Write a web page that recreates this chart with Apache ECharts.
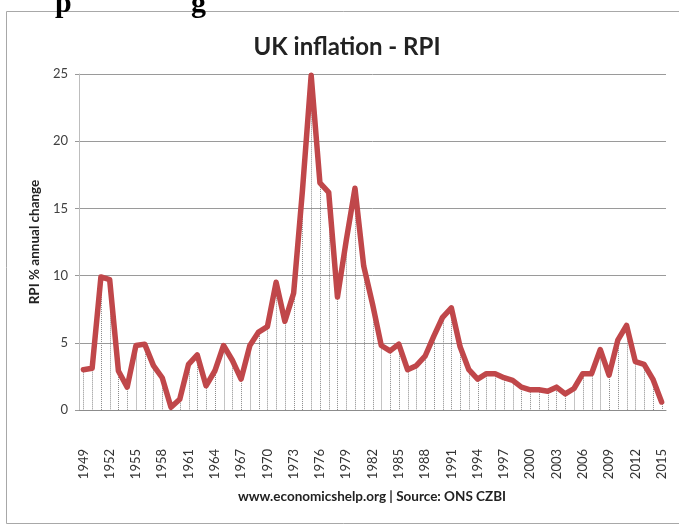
<!DOCTYPE html>
<html>
<head>
<meta charset="utf-8">
<script src="https://cdn.jsdelivr.net/npm/echarts@6/dist/echarts.min.js"></script>
<style>
html,body{margin:0;padding:0;background:#fff;}
#chart{width:679px;height:525px;}
</style>
</head>
<body>
<div id="chart"></div>
<script>
var years = [];
for (var y = 1949; y <= 2015; y++) years.push(String(y));

var rpiChange = [
  3.0, 3.1, 9.9, 9.7, 2.9, 1.7, 4.8, 4.9, 3.3, 2.4,
  0.2, 0.8, 3.4, 4.1, 1.8, 2.9, 4.8, 3.7, 2.3, 4.8,
  5.8, 6.2, 9.5, 6.6, 8.7, 16.3, 24.9, 16.9, 16.2, 8.4,
  12.6, 16.5, 10.7, 7.9, 4.8, 4.4, 4.9, 3.0, 3.3, 4.0,
  5.5, 6.9, 7.6, 4.7, 3.0, 2.3, 2.7, 2.7, 2.4, 2.2,
  1.7, 1.5, 1.5, 1.4, 1.7, 1.2, 1.6, 2.7, 2.7, 4.5,
  2.6, 5.2, 6.3, 3.6, 3.4, 2.3, 0.6
];

var titleText = 'UK inflation - RPI';
var yAxisTitle = 'RPI % annual change';
var sourceText = 'www.economicshelp.org | Source: ONS CZBI';
var headingFragments = ['p', 'g'];

var chart = echarts.init(document.getElementById('chart'));
var FONT = 'Lato, "Open Sans", sans-serif';

chart.setOption({
  animation: false,
  backgroundColor: '#ffffff',
  title: {
    text: titleText,
    left: 342,
    textAlign: 'center',
    top: 30,
    textStyle: { fontFamily: FONT, fontSize: 24, fontWeight: 'bold', color: '#222' }
  },
  grid: { left: 79, right: 13, top: 74, bottom: 115 },
  xAxis: {
    type: 'category',
    data: years,
    boundaryGap: true,
    axisLine: { show: true, lineStyle: { color: '#8c8c8c', width: 1 } },
    axisTick: { show: false },
    axisLabel: {
      interval: 2,
      rotate: 90,
      margin: 39,
      fontFamily: FONT,
      fontSize: 13,
      color: '#333'
    },
    splitLine: { show: false }
  },
  yAxis: {
    type: 'value',
    min: 0,
    max: 25,
    interval: 5,
    name: yAxisTitle,
    nameLocation: 'middle',
    nameGap: 36,
    nameTextStyle: { fontFamily: FONT, fontSize: 13.5, fontWeight: 'bold', color: '#222' },
    axisLine: { show: true, lineStyle: { color: '#bdbdbd', width: 1 } },
    axisTick: { show: true, length: 4, lineStyle: { color: '#999' } },
    axisLabel: { margin: 11, fontFamily: FONT, fontSize: 13, color: '#404040' },
    splitLine: { show: true, lineStyle: { color: '#9a9a9a', width: 1 } }
  },
  graphic: [
    {
      type: 'rect',
      shape: { x: 6.5, y: 11.5, width: 700, height: 512 },
      style: { fill: null, stroke: '#a8a8a8', lineWidth: 1 },
      silent: true
    },
    {
      type: 'text',
      x: 372,
      y: 497,
      style: {
        text: sourceText,
        fontFamily: FONT,
        fontSize: 13.5,
        fontWeight: 'bold',
        fill: '#222',
        textAlign: 'center',
        textVerticalAlign: 'middle'
      }
    },
    {
      type: 'text',
      x: 55,
      y: 19,
      style: {
        text: headingFragments[0],
        fontFamily: '"Liberation Serif", serif',
        fontSize: 30,
        fontWeight: 'bold',
        fill: '#000',
        textVerticalAlign: 'bottom'
      }
    },
    {
      type: 'text',
      x: 191,
      y: 19,
      style: {
        text: headingFragments[1],
        fontFamily: '"Liberation Serif", serif',
        fontSize: 30,
        fontWeight: 'bold',
        fill: '#000',
        textVerticalAlign: 'bottom'
      }
    }
  ],
  series: [
    {
      type: 'custom',
      z: 1,
      silent: true,
      renderItem: function (params, api) {
        var top = api.coord([api.value(0), api.value(1)]);
        var bottom = api.coord([api.value(0), 0]);
        return {
          type: 'line',
          shape: { x1: Math.round(top[0]) + 0.5, y1: top[1], x2: Math.round(bottom[0]) + 0.5, y2: bottom[1] },
          style: { stroke: '#8a8a8a', lineWidth: 1, lineDash: [1, 1] }
        };
      },
      encode: { x: 0, y: 1 },
      data: years.map(function (yr, i) { return [i, rpiChange[i]]; })
    },
    {
      type: 'line',
      z: 3,
      data: rpiChange,
      symbol: 'none',
      lineStyle: { color: '#c0474a', width: 5.5, join: 'round', cap: 'round' },
      silent: true
    }
  ]
});
</script>
</body>
</html>
